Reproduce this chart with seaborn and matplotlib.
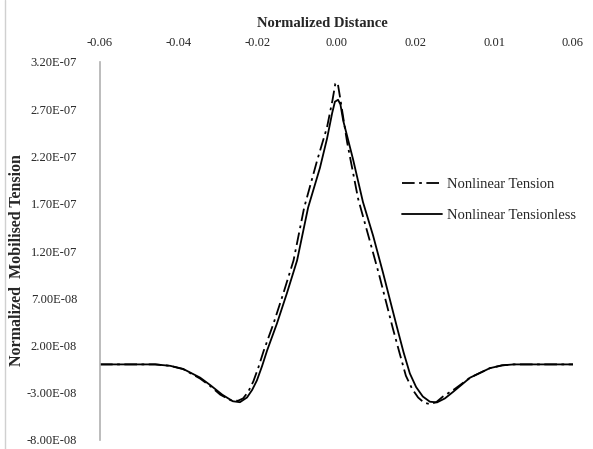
import matplotlib
matplotlib.use("Agg")
import matplotlib.pyplot as plt
from matplotlib.lines import Line2D
import seaborn as sns
import pandas as pd

# ---- data ----
tension_x = [-0.06, -0.0460, -0.0422, -0.0389, -0.0346, -0.0320, -0.0295, -0.0268, -0.0250,
             -0.0237, -0.0224, -0.0211, -0.0198, -0.0185, -0.0160, -0.0135, -0.0109,
             -0.0082, -0.0049, -0.0024, -0.0010, -0.0003, 0.0003, 0.0010, 0.0027, 0.0055,
             0.0083, 0.0108, 0.0143, 0.0160, 0.0176, 0.0192, 0.0207, 0.0222, 0.0237, 0.0253,
             0.0270, 0.0300, 0.0339, 0.0389, 0.0420, 0.0450, 0.06]
tension_y = [0, 0, -1.5e-9, -5.0e-9, -1.5e-8, -2.3e-8, -3.2e-8, -3.8e-8, -3.85e-8,
             -3.6e-8, -2.9e-8, -1.8e-8, -3.0e-9, 1.4e-8, 4.3e-8, 7.5e-8, 1.10e-7,
             1.66e-7, 2.16e-7, 2.51e-7, 2.80e-7, 2.97e-7, 2.98e-7, 2.80e-7, 2.35e-7, 1.75e-7,
             1.33e-7, 9.5e-8, 3.8e-8, 1.2e-8, -1.2e-8, -2.6e-8, -3.5e-8, -4.05e-8, -4.2e-8, -4.0e-8,
             -3.4e-8, -2.6e-8, -1.4e-8, -4.0e-9, -1.0e-9, 0, 0]

tensionless_x = [-0.06, -0.0460, -0.0422, -0.0389, -0.0346, -0.0320, -0.0290, -0.0263,
                 -0.0245, -0.0227, -0.0214, -0.0202, -0.0189, -0.0176, -0.0151, -0.0126,
                 -0.0100, -0.0072, -0.0042, -0.0024, -0.0011, -0.0004, 0.0004, 0.0010,
                 0.0017, 0.0042, 0.0067, 0.0093, 0.0118, 0.0153, 0.0170, 0.0186, 0.0202,
                 0.0219, 0.0237, 0.0255, 0.0275, 0.0296, 0.0339, 0.0389, 0.0420, 0.0450, 0.06]
tensionless_y = [0, 0, -1.5e-9, -4.8e-9, -1.4e-8, -2.2e-8, -3.2e-8, -3.9e-8,
                 -4.0e-8, -3.5e-8, -2.7e-8, -1.7e-8, -2.0e-9, 1.48e-8, 4.34e-8, 7.51e-8,
                 1.10e-7, 1.66e-7, 2.08e-7, 2.39e-7, 2.66e-7, 2.78e-7, 2.80e-7, 2.75e-7,
                 2.58e-7, 2.17e-7, 1.72e-7, 1.36e-7, 9.7e-8, 4.0e-8, 1.3e-8, -9.5e-9, -2.4e-8,
                 -3.4e-8, -3.95e-8, -4.02e-8, -3.6e-8, -2.9e-8, -1.4e-8, -4.0e-9, -1.0e-9, 0, 0]

x_ticks = [-0.06, -0.04, -0.02, 0.00, 0.02, 0.04, 0.06]
x_tick_labels = ["-0.06", "-0.04", "-0.02", "0.00", "0.02", "0.01", "0.06"]
y_ticks = [3.2e-7, 2.7e-7, 2.2e-7, 1.7e-7, 1.2e-7, 7.0e-8, 2.0e-8, -3.0e-8, -8.0e-8]
y_tick_labels = ["3.20E-07", "2.70E-07", "2.20E-07", "1.70E-07", "1.20E-07",
                 "7.00E-08", "2.00E-08", "-3.00E-08", "-8.00E-08"]
series_names = ["Nonlinear Tension", "Nonlinear Tensionless"]

df = pd.concat([
    pd.DataFrame({"x": tension_x, "y": tension_y, "series": series_names[0]}),
    pd.DataFrame({"x": tensionless_x, "y": tensionless_y, "series": series_names[1]}),
])

sns.set_style("white")
plt.rcParams["font.family"] = ["Liberation Serif", "DejaVu Serif"]

fig = plt.figure(figsize=(5.93, 4.49), dpi=100)
ax = fig.add_axes([100 / 593, 1 - 440 / 449, 473 / 593, 378 / 449])

DASH = (7, 2.5, 1.5, 2.5)
sns.lineplot(data=df, x="x", y="y", hue="series", style="series",
             palette=["black", "black"],
             dashes={series_names[0]: DASH, series_names[1]: ""},
             sort=False, estimator=None, linewidth=1.3, ax=ax, legend=False)

ax.set_xlim(-0.06, 0.06)
ax.set_ylim(-8e-8, 3.2e-7)
ax.set_xticks(x_ticks)
ax.set_xticklabels(x_tick_labels, fontsize=9)
ax.set_yticks(y_ticks)
ax.set_yticklabels(y_tick_labels, fontsize=9)
ax.xaxis.tick_top()
ax.xaxis.set_label_position("top")
ax.tick_params(axis="x", length=0, pad=9.5)
ax.tick_params(axis="y", length=0, pad=16.5)
ax.set_xlabel("Normalized Distance", fontsize=10.5, fontweight="bold")
ax.set_ylabel("Normalized  Mobilised Tension", fontsize=11.5, fontweight="bold")
ax.xaxis.set_label_coords(0.47, 1.093)
ax.yaxis.set_label_coords(-0.158, 0.475)

for s in ["top", "bottom", "right"]:
    ax.spines[s].set_visible(False)
ax.spines["left"].set_color("#b0b0b0")
ax.spines["left"].set_linewidth(1.2)

handles = [Line2D([], [], color="black", linewidth=1.3, dashes=DASH),
           Line2D([], [], color="black", linewidth=1.3)]
fig.legend(handles, series_names, loc="upper left",
           bbox_to_anchor=(389 / 593, 1 - 165 / 449), frameon=False,
           fontsize=10.5, handlelength=2.7, handletextpad=0.35, labelspacing=1.2)

# faint left border present in the reference image
fig.add_artist(Line2D([5 / 593, 5 / 593], [0, 1], color="#d0d0d0", linewidth=1.0,
                      transform=fig.transFigure))

fig.savefig("out.png", dpi=100)
